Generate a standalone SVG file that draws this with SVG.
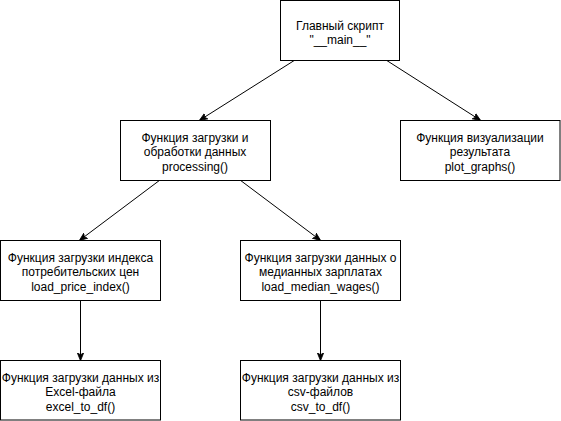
<svg xmlns="http://www.w3.org/2000/svg" width="561" height="421" viewBox="0 0 561 421">
<style>
.box{fill:#fff;stroke:#000;stroke-width:1}
.lbl{font-family:"Liberation Sans",Arial,sans-serif;font-size:12px;fill:#000;text-anchor:middle}
.edge{fill:none;stroke:#000;stroke-width:1;marker-end:url(#arr)}
</style>
<defs>
<marker id="arr" viewBox="0 0 10 10" refX="9" refY="5" markerWidth="8" markerHeight="8" markerUnits="userSpaceOnUse" orient="auto">
<path d="M0,1 L10,5 L0,9 L2.5,5 Z" fill="#000" stroke="#000" stroke-width="1"/>
</marker>
</defs>
<rect width="561" height="421" fill="#fff"/>
<g id="connectors">
<path class="edge" d="M295,60 L200,120"/>
<path class="edge" d="M386,60 L480,120"/>
<path class="edge" d="M160,180 L80,240"/>
<path class="edge" d="M240,180 L320,240"/>
<path class="edge" d="M80.5,300 L80.5,360"/>
<path class="edge" d="M320.5,300 L320.5,360"/>
</g>
<g id="main">
<rect class="box" x="280.5" y="0.5" width="119" height="60"/>
<text class="lbl" x="340" y="29.5">Главный скрипт</text>
<text class="lbl" x="340" y="44">"__main__"</text>
</g>
<g id="processing">
<rect class="box" x="120.5" y="120.5" width="150" height="60"/>
<text class="lbl" x="195" y="141.5">Функция загрузки и</text>
<text class="lbl" x="195" y="156">обработки данных</text>
<text class="lbl" x="195" y="170.5">processing()</text>
</g>
<g id="plot">
<rect class="box" x="400.5" y="120.5" width="159.5" height="60"/>
<text class="lbl" x="480" y="141.5">Функция визуализации</text>
<text class="lbl" x="480" y="156">результата</text>
<text class="lbl" x="480" y="170.5">plot_graphs()</text>
</g>
<g id="price_index">
<rect class="box" x="0.5" y="240.5" width="160" height="60"/>
<text class="lbl" x="80.5" y="261.5">Функция загрузки индекса</text>
<text class="lbl" x="80.5" y="276">потребительских цен</text>
<text class="lbl" x="80.5" y="290.5">load_price_index()</text>
</g>
<g id="median_wages">
<rect class="box" x="240.5" y="240.5" width="160" height="60"/>
<text class="lbl" x="320.5" y="261.5">Функция загрузки данных о</text>
<text class="lbl" x="320.5" y="276">медианных зарплатах</text>
<text class="lbl" x="320.5" y="290.5">load_median_wages()</text>
</g>
<g id="excel">
<rect class="box" x="0.5" y="360.5" width="160" height="59.5"/>
<text class="lbl" x="80.5" y="381.5">Функция загрузки данных из</text>
<text class="lbl" x="80.5" y="396">Excel-файла</text>
<text class="lbl" x="80.5" y="410.5">excel_to_df()</text>
</g>
<g id="csv">
<rect class="box" x="240.5" y="360.5" width="160" height="59.5"/>
<text class="lbl" x="320.5" y="381.5">Функция загрузки данных из</text>
<text class="lbl" x="320.5" y="396">csv-файлов</text>
<text class="lbl" x="320.5" y="410.5">csv_to_df()</text>
</g>
</svg>
